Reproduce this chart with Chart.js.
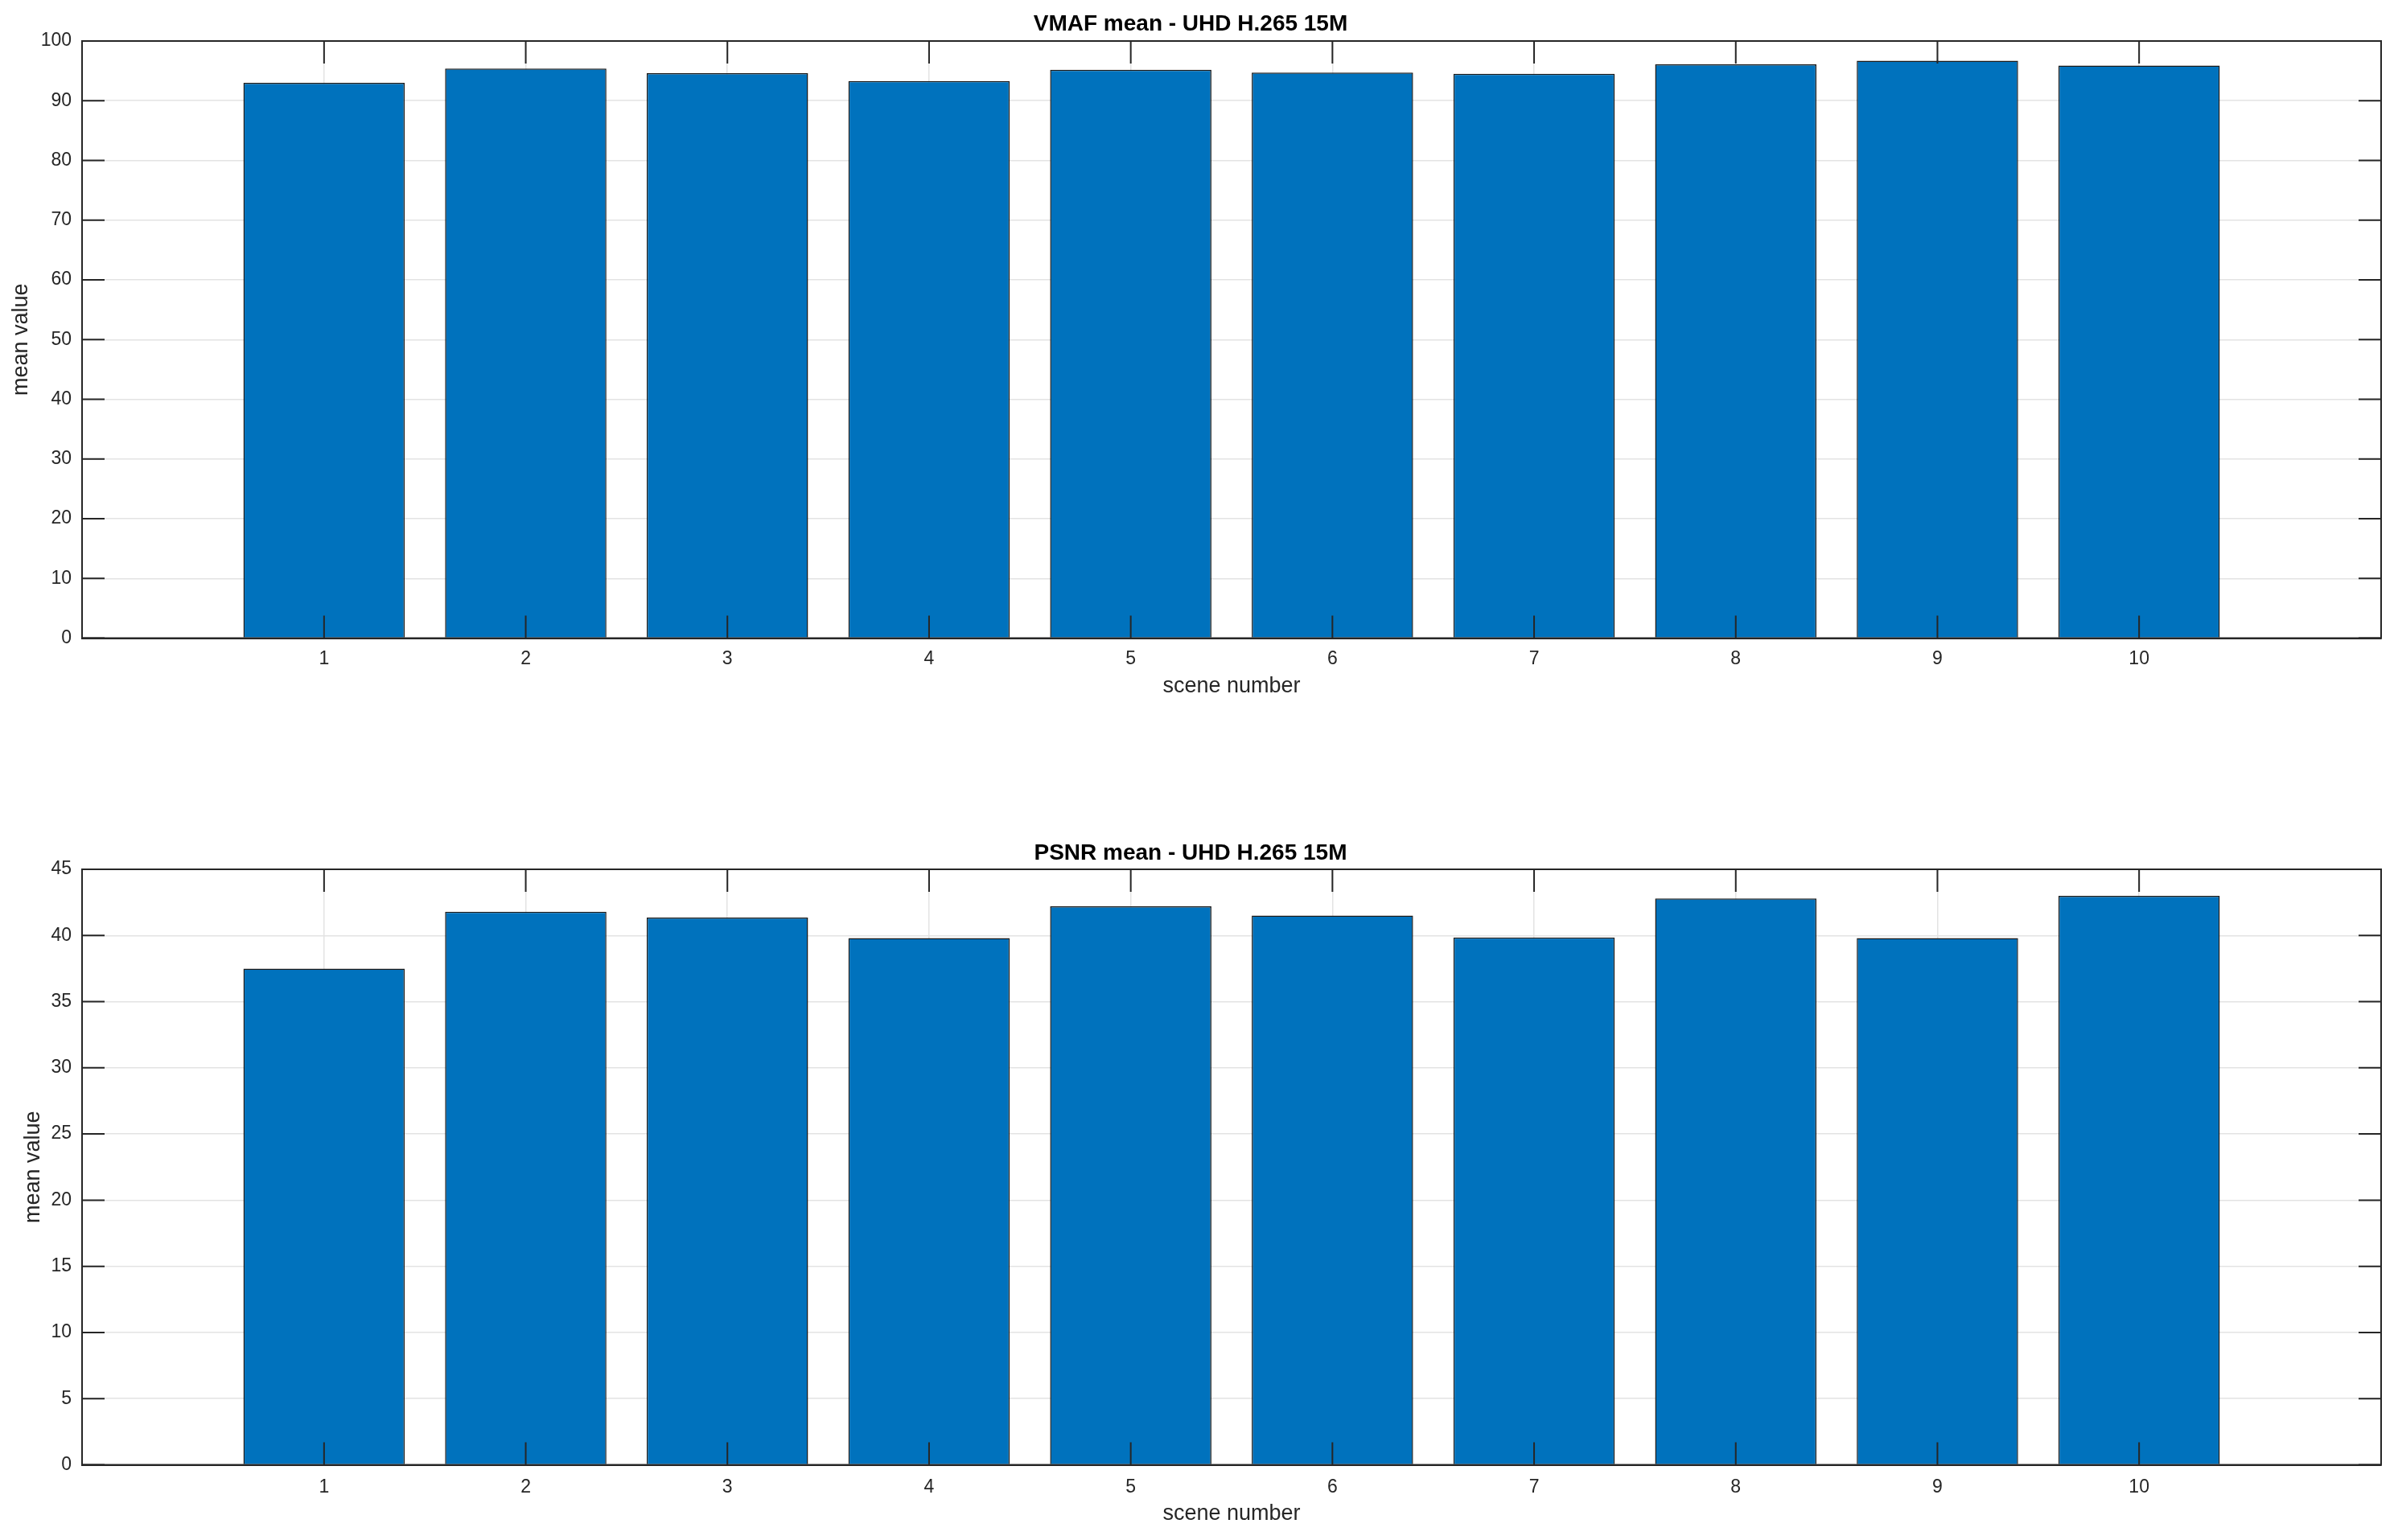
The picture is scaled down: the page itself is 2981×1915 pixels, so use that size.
<!DOCTYPE html>
<html lang="en">
<head>
    <meta charset="UTF-8">
    <title>VMAF / PSNR mean - UHD H.265 15M</title>
    <style>
        body {
            margin: 0;
            background: #fff;
        }
        .panel {
            position: absolute;
            left: 0;
        }
        #topPanel { top: 0; }
        #bottomPanel { top: 960px; }
    </style>
    <script src="https://cdn.jsdelivr.net/npm/chart.js"></script>
</head>
<body>
    <div class="panel" id="topPanel"><canvas id="vmafChart" width="2981" height="900"></canvas></div>
    <div class="panel" id="bottomPanel"><canvas id="psnrChart" width="2981" height="955"></canvas></div>

    <script>
        const scenes = [1, 2, 3, 4, 5, 6, 7, 8, 9, 10];
        const vmafMean = [93.0, 95.4, 94.6, 93.3, 95.2, 94.7, 94.5, 96.1, 96.7, 95.9];
        const psnrMean = [37.5, 41.8, 41.35, 39.8, 42.2, 41.5, 39.85, 42.8, 39.8, 43.0];
        const vmafTicks = [0, 10, 20, 30, 40, 50, 60, 70, 80, 90, 100];
        const psnrTicks = [0, 5, 10, 15, 20, 25, 30, 35, 40, 45];

        const FONT = '"Liberation Sans", Helvetica, Arial, sans-serif';
        const AXIS_COLOR = '#262626';

        // matlab style box + inward tick marks, drawn over the bars
        const matlabBox = {
            id: 'matlabBox',
            afterDatasetsDraw(chart) {
                const ctx = chart.ctx;
                const a = chart.chartArea;
                const xs = chart.scales.x;
                const ys = chart.scales.y;
                const len = 28;
                ctx.save();
                ctx.strokeStyle = AXIS_COLOR;
                ctx.lineWidth = 2;
                ctx.beginPath();
                xs.ticks.forEach(t => {
                    const px = xs.getPixelForValue(t.value);
                    ctx.moveTo(px, a.bottom);
                    ctx.lineTo(px, a.bottom - len);
                    ctx.moveTo(px, a.top);
                    ctx.lineTo(px, a.top + len);
                });
                ys.ticks.forEach(t => {
                    const py = ys.getPixelForValue(t.value);
                    ctx.moveTo(a.left, py);
                    ctx.lineTo(a.left + len, py);
                    ctx.moveTo(a.right, py);
                    ctx.lineTo(a.right - len, py);
                });
                ctx.stroke();
                ctx.strokeRect(a.left, a.top, a.right - a.left, a.bottom - a.top);
                ctx.restore();
            }
        };

        function makeChart(canvasId, title, values, yTicks, cfg) {
            const ctx = document.getElementById(canvasId);
            return new Chart(ctx, {
                type: 'bar',
                data: {
                    datasets: [{
                        data: scenes.map((s, i) => ({ x: s, y: values[i] })),
                        backgroundColor: '#0072BD',
                        borderColor: '#1a1a1a',
                        borderWidth: 1.5,
                        barPercentage: 0.8,
                        categoryPercentage: 1.0
                    }]
                },
                options: {
                    responsive: false,
                    animation: false,
                    devicePixelRatio: 1,
                    layout: { padding: { left: 0, right: 21, top: 0, bottom: 0 } },
                    plugins: {
                        legend: { display: false },
                        tooltip: { enabled: false },
                        title: {
                            display: true,
                            text: title,
                            color: '#000',
                            font: { family: FONT, size: 28, weight: 'bold' },
                            padding: { top: cfg.titleTop, bottom: cfg.titleBottom }
                        }
                    },
                    scales: {
                        x: {
                            type: 'linear',
                            min: -0.2,
                            max: 11.2,
                            offset: false,
                            afterBuildTicks: scale => {
                                scale.ticks = scenes.map(v => ({ value: v }));
                            },
                            afterFit: scale => { scale.height = cfg.xHeight; },
                            ticks: {
                                color: AXIS_COLOR,
                                font: { family: FONT, size: 23 },
                                padding: cfg.xTickPad,
                                maxRotation: 0
                            },
                            grid: { color: '#e3e3e3', lineWidth: 1.5, drawTicks: false, offset: false },
                            border: { color: AXIS_COLOR, width: 2 },
                            title: {
                                display: true,
                                text: 'scene number',
                                color: AXIS_COLOR,
                                font: { family: FONT, size: 27 },
                                padding: { top: 0, bottom: cfg.xTitlePad }
                            }
                        },
                        y: {
                            min: yTicks[0],
                            max: yTicks[yTicks.length - 1],
                            afterBuildTicks: scale => {
                                scale.ticks = yTicks.map(v => ({ value: v }));
                            },
                            afterFit: scale => { scale.width = 102; },
                            ticks: {
                                color: AXIS_COLOR,
                                font: { family: FONT, size: 23 },
                                padding: 13
                            },
                            grid: { color: '#e3e3e3', lineWidth: 1.5, drawTicks: false },
                            border: { color: AXIS_COLOR, width: 2 },
                            title: {
                                display: true,
                                text: 'mean value',
                                color: AXIS_COLOR,
                                font: { family: FONT, size: 27 },
                                padding: { top: cfg.yTitlePad, bottom: 0 }
                            }
                        }
                    }
                },
                plugins: [matlabBox]
            });
        }

        makeChart('vmafChart', 'VMAF mean - UHD H.265 15M', vmafMean, vmafTicks, {
            titleTop: 13, titleBottom: 4.4, xHeight: 106.5, xTickPad: 12.5, xTitlePad: 30, yTitlePad: 10.5
        });
        makeChart('psnrChart', 'PSNR mean - UHD H.265 15M', psnrMean, psnrTicks, {
            titleTop: 84, titleBottom: 3.4, xHeight: 93.5, xTickPad: 14.5, xTitlePad: 16, yTitlePad: 25
        });
    </script>
</body>
</html>
